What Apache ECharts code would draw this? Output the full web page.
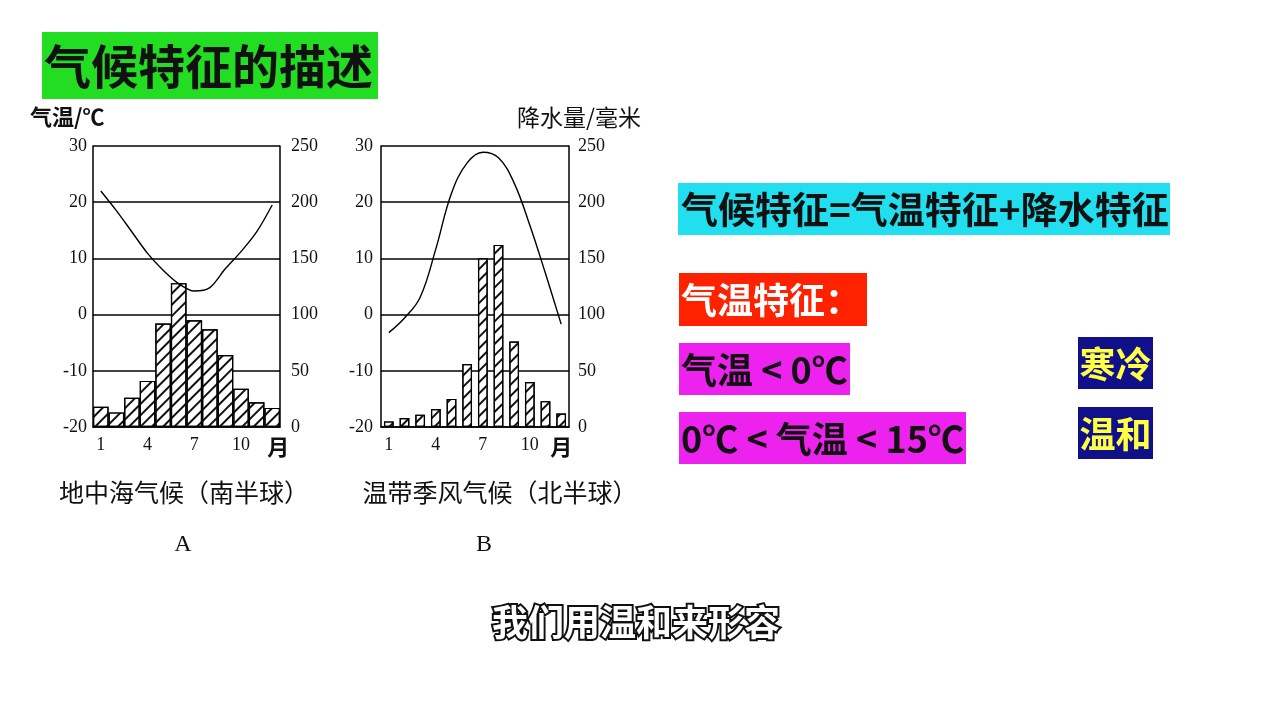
<!DOCTYPE html>
<html>
<head>
<meta charset="utf-8">
<title>气候特征的描述</title>
<script src="https://cdn.jsdelivr.net/npm/echarts@6/dist/echarts.min.js"></script>
<style>
  html, body { margin: 0; padding: 0; background: #fff; }
  #main { width: 1274px; height: 720px; }
</style>
</head>
<body>
<div id="main"></div>
<script>
// 月份
var months = ['1', '2', '3', '4', '5', '6', '7', '8', '9', '10', '11', '12'];
// A 地中海气候（南半球）
var tempA = [22, 18.5, 14.7, 10.9, 7.9, 5.5, 4.2, 4.8, 8.2, 11.2, 14.7, 19.5];
var rainA = [18, 13, 26, 41, 92, 128, 95, 87, 64, 34, 22, 17];
// B 温带季风气候（北半球）
var tempB = [-3.2, -0.6, 3.1, 11.7, 21.6, 27, 28.9, 27.9, 23.4, 15.9, 7.3, -1.7];
var rainB = [5, 8, 11, 16, 25, 56, 150, 162, 76, 40, 23, 12];
// 坐标刻度
var tempRange = [-20, 30, 10];
var rainRange = [0, 250, 50];
var shownMonths = [0, 3, 6, 9];

var CJK = '"Noto Sans CJK SC", sans-serif';
var SERIF = '"Liberation Serif", "DejaVu Serif", serif';

// 斜线阴影
var hatch = {
  symbol: 'rect',
  symbolSize: 1,
  color: '#111',
  dashArrayX: [1, 0],
  dashArrayY: [1.2, 5.5],
  rotation: -Math.PI / 4
};

function xAxisFor(gi, yuePad) {
  return {
    type: 'category',
    gridIndex: gi,
    data: months,
    axisLine: { onZero: false, lineStyle: { color: '#000', width: 1.5 } },
    axisTick: { show: false },
    axisLabel: {
      margin: 9,
      color: '#111',
      fontFamily: SERIF,
      fontSize: 18,
      interval: function (i) { return shownMonths.indexOf(i) >= 0 || i === 11; },
      formatter: function (v, i) { return i === 11 ? '{m|月}' : v; },
      rich: {
        m: { fontFamily: CJK, fontSize: 22, fontWeight: 'bold', color: '#111', padding: [0, 0, 0, yuePad] }
      }
    }
  };
}

function yAxisFor(gi, range, pos, margin, split) {
  return {
    type: 'value',
    gridIndex: gi,
    position: pos,
    min: range[0],
    max: range[1],
    interval: range[2],
    axisLine: { show: true, lineStyle: { color: '#000', width: 1.5 } },
    axisTick: { show: false },
    axisLabel: { margin: margin, color: '#111', fontFamily: SERIF, fontSize: 18 },
    splitLine: { show: split, lineStyle: { color: '#000', width: 1.5 } }
  };
}

function box(x, y, w, h, fill, text, tx, color, size, align) {
  return {
    type: 'group',
    children: [
      { type: 'rect', shape: { x: x, y: y, width: w, height: h }, style: { fill: fill } },
      {
        type: 'text', x: tx, y: y + h / 2 + 1,
        style: {
          text: text, fill: color, font: 'bold ' + size + 'px ' + CJK,
          textAlign: align || 'left', textVerticalAlign: 'middle'
        }
      }
    ]
  };
}

function label(text, x, y, font, align) {
  return {
    type: 'text', x: x, y: y,
    style: { text: text, fill: '#111', font: font, textAlign: align || 'left', textVerticalAlign: 'middle' }
  };
}

var chart = echarts.init(document.getElementById('main'));

var option = {
  backgroundColor: '#fff',
  animation: false,
  grid: [
    { left: 93, top: 146, width: 187, height: 281 },
    { left: 381, top: 146, width: 188, height: 281 }
  ],
  xAxis: [xAxisFor(0, 12), xAxisFor(1, 0)],
  yAxis: [
    yAxisFor(0, tempRange, 'left', 6, true),
    yAxisFor(0, rainRange, 'right', 11, false),
    yAxisFor(1, tempRange, 'left', 8, true),
    yAxisFor(1, rainRange, 'right', 9, false)
  ],
  series: [
    {
      name: '降水量A', type: 'bar', xAxisIndex: 0, yAxisIndex: 1, data: rainA,
      barCategoryGap: '0%',
      itemStyle: { color: '#fff', borderColor: '#000', borderWidth: 1.2, decal: hatch }
    },
    {
      name: '气温A', type: 'line', xAxisIndex: 0, yAxisIndex: 0, data: tempA,
      smooth: 0.3, symbol: 'none', lineStyle: { color: '#000', width: 1.4 }, z: 3
    },
    {
      name: '降水量B', type: 'bar', xAxisIndex: 1, yAxisIndex: 3, data: rainB,
      barWidth: '62%',
      itemStyle: { color: '#fff', borderColor: '#000', borderWidth: 1.2, decal: hatch }
    },
    {
      name: '气温B', type: 'line', xAxisIndex: 1, yAxisIndex: 2, data: tempB,
      smooth: 0.4, symbol: 'none', lineStyle: { color: '#000', width: 1.4 }, z: 3
    }
  ],
  graphic: [
    box(42, 32, 336, 67, '#22dd22', '气候特征的描述', 44, '#111', 47),
    label('气温/℃', 30, 117, 'bold 22px ' + CJK),
    label('降水量/毫米', 641, 117, '23px ' + CJK, 'right'),
    label('地中海气候（南半球）', 184, 492, '25px ' + CJK, 'center'),
    label('温带季风气候（北半球）', 500, 492, '25px ' + CJK, 'center'),
    label('A', 183, 545, '24px ' + SERIF, 'center'),
    label('B', 484, 545, '24px ' + SERIF, 'center'),
    box(678, 183, 492, 52, '#22dff0', '气候特征=气温特征+降水特征', 681, '#111', 37),
    box(679, 273, 188, 53, '#ff2200', '气温特征：', 681, '#fff', 36),
    box(679, 343, 171, 52, '#ee22ee', '气温 < 0℃', 681, '#111', 36),
    box(679, 412, 287, 52, '#ee22ee', '0℃ < 气温 < 15℃', 681, '#111', 36),
    box(1078, 337, 75, 52, '#10108a', '寒冷', 1115.5, '#ffff44', 36, 'center'),
    box(1078, 407, 75, 52, '#10108a', '温和', 1115.5, '#ffff44', 36, 'center'),
    {
      type: 'text', x: 636, y: 622,
      style: {
        text: '我们用温和来形容', fill: '#fff', stroke: '#111', lineWidth: 4, strokeFirst: true,
        font: 'bold 36px ' + CJK, textAlign: 'center', textVerticalAlign: 'middle'
      }
    }
  ]
};

chart.setOption(option);
</script>
</body>
</html>
